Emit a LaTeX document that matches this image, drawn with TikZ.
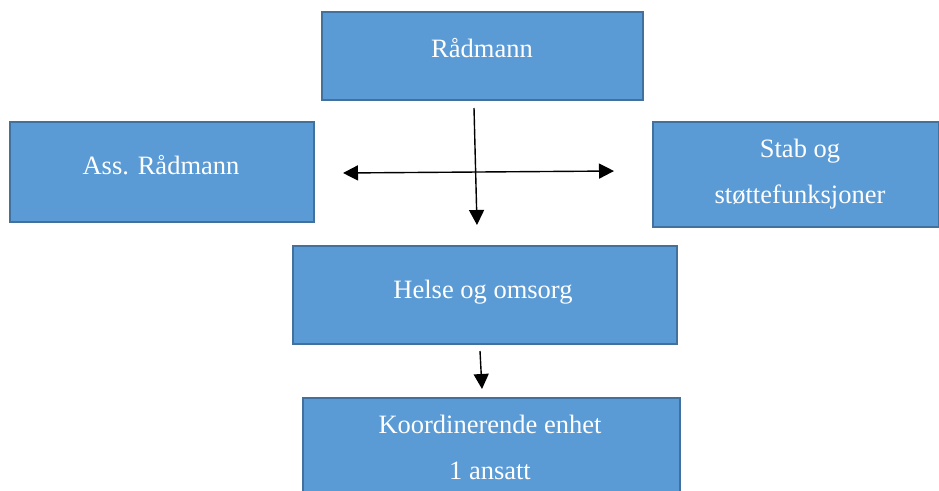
\documentclass[tikz,border=0pt]{standalone}
\usepackage{fontspec}
\setmainfont{Liberation Serif}
\usetikzlibrary{arrows.meta}
\definecolor{boxfill}{HTML}{5B9BD5}
\definecolor{boxline}{HTML}{41719C}
\tikzset{
  orgbox/.style={draw=boxline, fill=boxfill, line width=2pt, rectangle, inner sep=0pt, anchor=north west},
  lbl/.style={text=white, font=\fontsize{26.5}{46}\selectfont, anchor=base, inner sep=0pt},
  arr/.style={line width=1.4pt, -{Triangle[width=15pt,length=15pt]}},
  darr/.style={line width=1.4pt, {Triangle[width=15pt,length=15pt]}-{Triangle[width=15pt,length=15pt]}}
}
\begin{document}
\begin{tikzpicture}[x=1pt,y=-1pt]
\useasboundingbox (0,0) rectangle (939,490);
\fill[white] (0,0) rectangle (939,490);
% boxes
\node[orgbox, minimum width=321pt, minimum height=88pt] (radm) at (321,11) {};
\node[orgbox, minimum width=304pt, minimum height=100pt] (ass) at (9,121) {};
\node[orgbox, minimum width=286pt, minimum height=105pt] (stab) at (652,121) {};
\node[orgbox, minimum width=384pt, minimum height=98pt] (helse) at (292,245) {};
\node[orgbox, minimum width=377pt, minimum height=110pt] (koord) at (302,397) {};
% labels
\node[lbl] (tradm) at (482,57) {Rådmann};
\node[lbl] (tass) at (161,174) {Ass. Rådmann};
\node[lbl] (tstab1) at (800,157) {Stab og};
\node[lbl] (tstab2) at (800,203) {støttefunksjoner};
\node[lbl] (thelse) at (483,298) {Helse og omsorg};
\node[lbl] (tkoord1) at (490,433) {Koordinerende enhet};
\node[lbl] (tkoord2) at (490,479) {1 ansatt};
% arrow coordinates
\coordinate (vtop) at (474,108);
\coordinate (vbot) at (477,225);
\coordinate (hl) at (343,173);
\coordinate (hr) at (614,171);
\coordinate (btop) at (480,351);
\coordinate (bbot) at (482,389);
\draw[arr] (vtop) -- (vbot);
\draw[darr] (hl) -- (hr);
\draw[arr] (btop) -- (bbot);
\end{tikzpicture}
\end{document}
